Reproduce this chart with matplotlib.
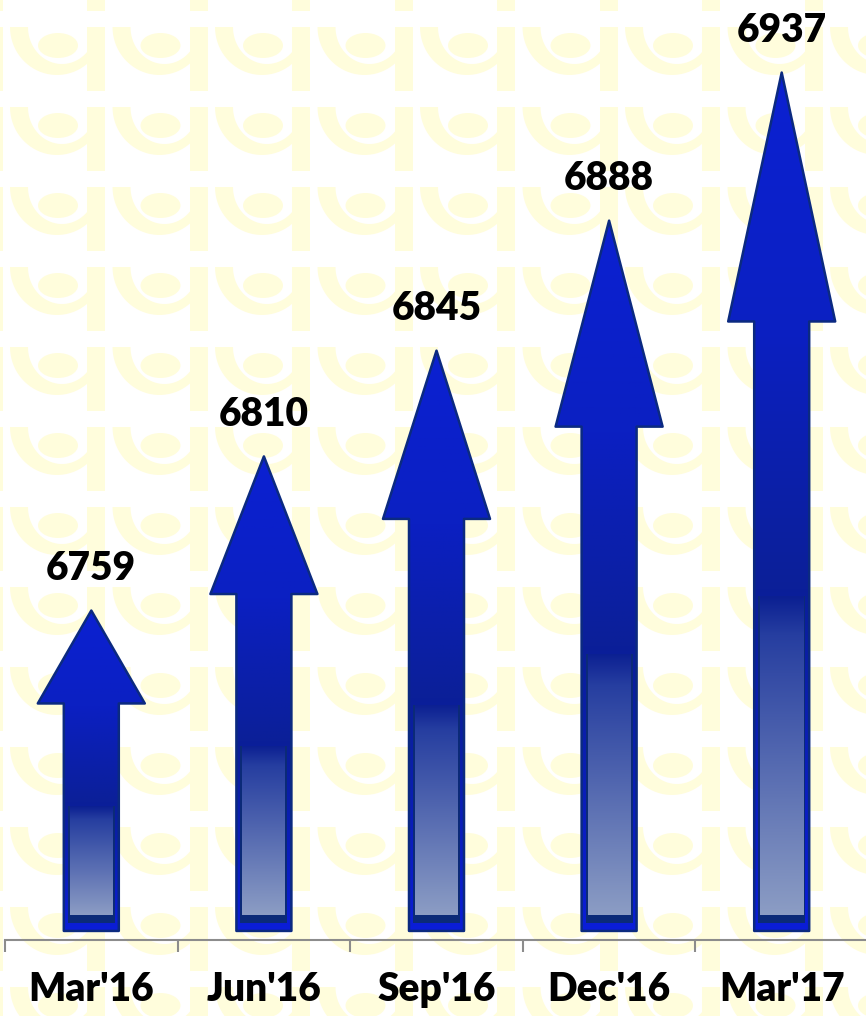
import numpy as np
import matplotlib
matplotlib.use("Agg")
import matplotlib.pyplot as plt
from matplotlib.patches import Polygon, Ellipse, Rectangle
from matplotlib.colors import LinearSegmentedColormap

# data
categories = ["Mar'16", "Jun'16", "Sep'16", "Dec'16", "Mar'17"]
values = [6759, 6810, 6845, 6888, 6937]

W, H = 866, 1016
fig = plt.figure(figsize=(W / 100, H / 100), dpi=100)

# background watermark (pale yellow logo tiles)
bg = fig.add_axes([0, 0, 1, 1], zorder=0)
bg.set_xlim(0, W)
bg.set_ylim(H, 0)
bg.axis("off")
wm = "#fffddc"


def half_ellipse(cx, a, b, ox, oy):
    t = np.linspace(0, np.pi, 40)
    pts = np.column_stack([ox + cx + a * np.cos(t), oy + b * np.sin(t)])
    return pts


for j in range(-1, 14):
    for i in range(-1, 9):
        ox = 10 + 102.5 * i
        oy = 27 + 80 * j
        bg.add_patch(Polygon(half_ellipse(47, 47, 48, ox, oy), closed=True, fc=wm, ec="none"))
        bg.add_patch(Polygon(half_ellipse(52, 34, 37, ox, oy), closed=True, fc="white", ec="none"))
        bg.add_patch(Rectangle((ox + 77, oy), 18, 64, fc=wm, ec="none"))
        bg.add_patch(Ellipse((ox + 48, oy + 18.5), 40, 25, fc=wm, ec="none"))

# main chart
ax = fig.add_axes([5 / W, 76 / H, 863 / W, 940 / H], zorder=1)
ax.patch.set_alpha(0)
ymin, ymax = 6650, 6961
ax.set_xlim(-0.5, 4.5)
ax.set_ylim(ymin, ymax)

px_x = 5 / 863
px_y = (ymax - ymin) / 940
base = 6653

outer_cmap = LinearSegmentedColormap.from_list(
    "outer", [(0, "#0c20d2"), (0.3, "#0b20c2"), (0.6, "#0b1f98"), (1.0, "#0a1dd8")])
inner_cmap = LinearSegmentedColormap.from_list(
    "inner", [(0, "#0b1f92"), (0.12, "#263ea0"), (1.0, "#8c9dc4")])
grad = np.linspace(0, 1, 256).reshape(-1, 1)

sw = 27.5 * px_x
hw = 53.5 * px_x
for i, v in enumerate(values):
    L = v - base
    hb = v - 0.29 * L
    pts = [(i - sw, base), (i + sw, base), (i + sw, hb), (i + hw, hb), (i, v),
           (i - hw, hb), (i - sw, hb)]
    arrow = Polygon(pts, closed=True, fc="none", ec="none")
    ax.add_patch(arrow)
    im = ax.imshow(grad, cmap=outer_cmap, extent=(i - hw, i + hw, base, v),
                   aspect="auto", origin="upper", zorder=2)
    im.set_clip_path(arrow)
    ax.add_patch(Polygon(pts, closed=True, fc="none", ec="#0b2a80", lw=1.8,
                         joinstyle="round", zorder=3))

    itop = v - 0.61 * L
    ax.add_patch(Rectangle((i - sw + 4 * px_x, base + 8 * px_y), 2 * (sw - 4 * px_x),
                           itop - base - 8 * px_y, fc="#0b2a78", ec="none", zorder=3))
    x0 = i - sw + 6 * px_x
    x1 = i + sw - 6 * px_x
    y0 = base + 16 * px_y
    inner = Rectangle((x0, y0), x1 - x0, itop - y0, fc="none", ec="none")
    ax.add_patch(inner)
    im2 = ax.imshow(grad, cmap=inner_cmap, extent=(x0, x1, y0, itop),
                    aspect="auto", origin="upper", zorder=4)
    im2.set_clip_path(inner)

    ax.annotate(str(v), (i, v), xytext=(0, 22), textcoords="offset points",
                ha="center", va="baseline", fontsize=28, fontweight="heavy",
                family="Lato", color="black", annotation_clip=False)

ax.set_xlim(-0.5, 4.5)
ax.set_ylim(ymin, ymax)

for s in ["top", "left", "right"]:
    ax.spines[s].set_visible(False)
ax.spines["bottom"].set_color("#8c8c8c")
ax.spines["bottom"].set_linewidth(1.5)
ax.set_yticks([])
ax.set_xticks(range(len(categories)))
ax.set_xticklabels(categories, fontsize=28, fontweight="heavy", family="Lato")
ax.set_xticks(np.arange(-0.5, 5, 1), minor=True)
ax.tick_params(axis="x", which="major", length=0, pad=22)
ax.tick_params(axis="x", which="minor", length=8.6, width=1.5, color="#8c8c8c")

fig.savefig("out.png", dpi=100)
